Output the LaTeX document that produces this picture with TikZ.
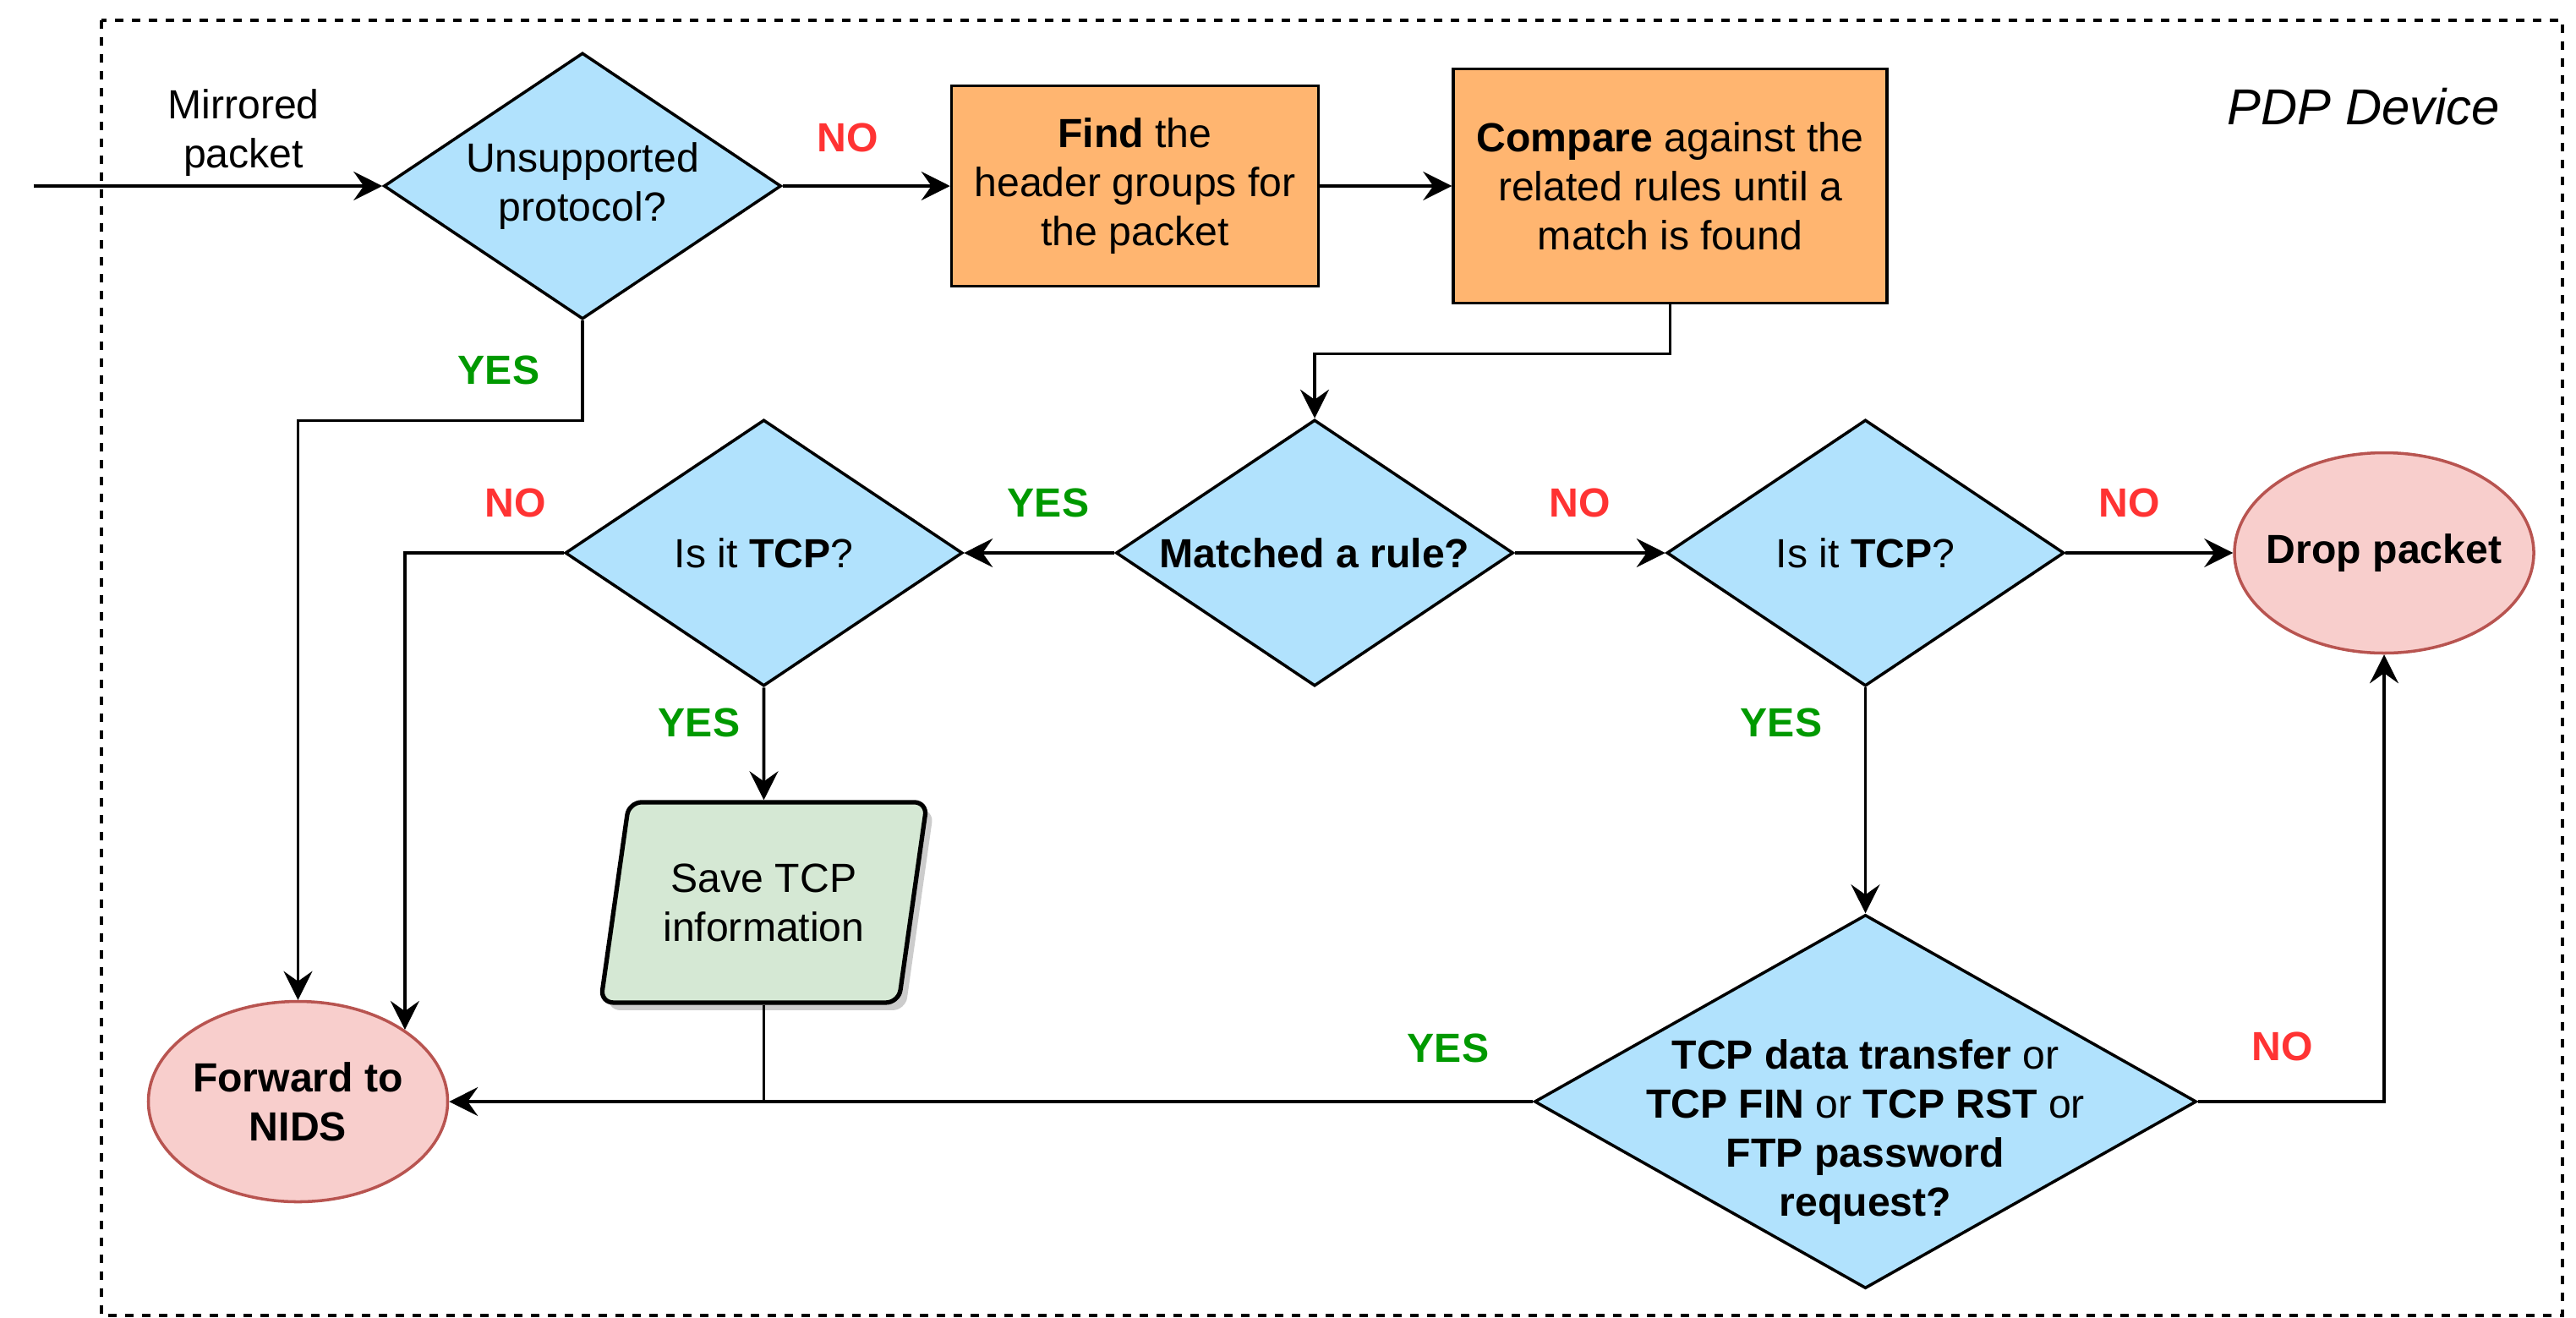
\documentclass[tikz,border=0pt]{standalone}
\usepackage{fontspec}
\setmainfont{Liberation Sans}
\usetikzlibrary{arrows.meta, positioning, shapes.geometric, shadows}

\definecolor{decblue}{HTML}{B1E2FD}
\definecolor{boxorange}{HTML}{FFB570}
\definecolor{termpink}{HTML}{F8CECC}
\definecolor{termred}{HTML}{B85450}
\definecolor{iogreen}{HTML}{D5E8D4}
\definecolor{yesgreen}{HTML}{009900}
\definecolor{nored}{HTML}{FF3333}

\newcommand{\flowfont}{\fontsize{13.7}{16.5}\selectfont}

\begin{document}
\begin{tikzpicture}[
  font=\flowfont,
  dec/.style={diamond, draw, fill=decblue, line width=1pt, minimum width=4.7cm, minimum height=3.15cm, aspect=1.5, inner sep=0pt, align=center},
  box/.style={draw, fill=boxorange, line width=1pt, minimum width=4.34cm, minimum height=2.37cm, inner sep=0pt, align=center},
  term/.style={ellipse, draw=termred, fill=termpink, line width=1pt, minimum width=3.54cm, minimum height=2.37cm, inner sep=0pt, align=center, font=\flowfont\bfseries},
  io/.style={trapezium, trapezium left angle=70, trapezium right angle=110, trapezium stretches body, draw, fill=iogreen, line width=1.5pt, rounded corners=0.15cm, minimum width=3.86cm, minimum height=2.37cm, inner xsep=-0.07cm, inner ysep=0pt, align=center, drop shadow={shadow xshift=0.08cm, shadow yshift=-0.09cm, fill=black, opacity=0.2}},
  yes/.style={text=yesgreen, font=\flowfont\bfseries},
  no/.style={text=nored, font=\flowfont\bfseries},
  arr/.style={-{Stealth[length=3.4mm, width=3.4mm, inset=1.2mm]}, line width=1pt},
  line/.style={line width=1pt},
  frame/.style={line width=0.9pt, dash pattern=on 0.1cm off 0.1cm}
]
\useasboundingbox (0,0) rectangle (30.47,-15.58);

\draw[frame] (1.2,-0.24) rectangle (30.31,-15.56);
\node[font=\fontsize{17}{20}\selectfont\itshape] (pdp) at (27.96,-1.26) {PDP Device};

% top row
\node[dec] (unsup) at (6.89,-2.2) {Unsupported\\protocol?};
\node[box, right=1.98cm of unsup] (find) {\textbf{Find} the\\header groups for\\the packet};
\node[box, minimum width=5.13cm, minimum height=2.77cm, right=1.56cm of find] (cmp) {\textbf{Compare} against the\\related rules until a\\match is found};

\coordinate (in) at (0.4,-2.2);
\node[align=center] (mirr) at (2.88,-1.57) {Mirrored\\packet};

% middle row
\node[dec] (matched) at (15.55,-6.54) {\textbf{Matched a rule?}};
\node[dec, left=1.78cm of matched] (tcpl) {Is it \textbf{TCP}?};
\node[dec, right=1.78cm of matched] (tcpr) {Is it \textbf{TCP}?};
\node[term, inner xsep=-0.15cm, right=1.98cm of tcpr] (drop) {Drop packet};

% bottom row
\node[io, below=1.33cm of tcpl] (save) {Save TCP\\information};
\node[dec, minimum width=7.83cm, minimum height=4.42cm, aspect=1.77, inner xsep=-0.6cm, inner ysep=-0.45cm, text height=2.8cm, text depth=0.1cm, below=2.67cm of tcpr] (big) {\textbf{TCP data transfer} or\\\textbf{TCP FIN} or \textbf{TCP RST} or\\\textbf{FTP password}\\\textbf{request?}};
\node[term, left=12.82cm of big] (fwd) {Forward to\\NIDS};

% labels
\node[no] (no1) at (10.03,-1.63) {NO};
\node[yes] (yes1) at (5.90,-4.38) {YES};
\node[no] (no2) at (6.10,-5.95) {NO};
\node[yes] (yes2) at (12.40,-5.95) {YES};
\node[yes] (yes3) at (8.27,-8.55) {YES};
\node[no] (no3) at (18.69,-5.95) {NO};
\node[no] (no4) at (25.19,-5.95) {NO};
\node[yes] (yes4) at (21.07,-8.55) {YES};
\node[yes] (yes5) at (17.13,-12.40) {YES};
\node[no] (no5) at (27.00,-12.38) {NO};

\draw[arr] (in) -- (unsup);
\draw[arr] (unsup) -- (find);
\draw[arr] (find) -- (cmp);
\draw[arr] (cmp.south) -- ++(0,-0.58) -| (matched);
\draw[arr] (unsup.south) -- ++(0,-1.18) -| (fwd);

\draw[arr] (matched) -- (tcpl);
\draw[arr] (matched) -- (tcpr);
\draw[arr] (tcpr) -- (drop);
\draw[arr] (tcpl.west) -| (fwd.north east);
\draw[arr] (tcpl) -- (save);
\draw[arr] (tcpr) -- (big);

\draw[arr] (big) -- (fwd);
\draw[line] (save.south) -- (save.south |- fwd.east);
\draw[arr] (big.east) -| (drop);

\end{tikzpicture}
\end{document}
